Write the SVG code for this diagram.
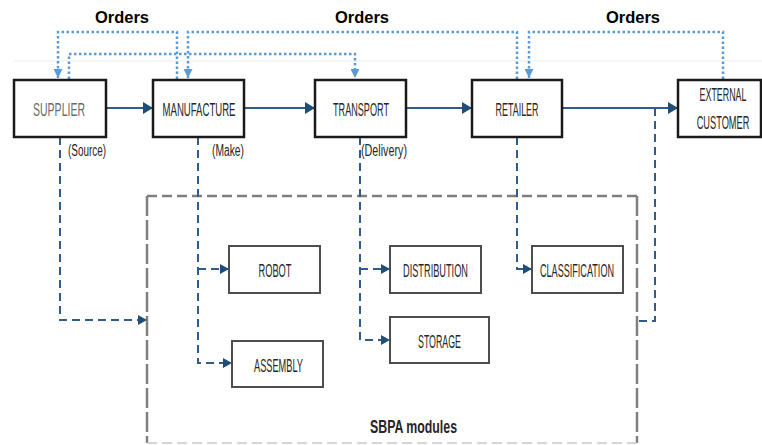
<svg xmlns="http://www.w3.org/2000/svg" width="762" height="445" viewBox="0 0 762 445">
  <style>
    .box { fill: #ffffff; stroke: #1a1a1a; stroke-width: 2.5; }
    .sub { fill: #ffffff; stroke: #4d4d4d; stroke-width: 2; }
    .lbl { font-family: "Liberation Sans", Arial, sans-serif; font-size: 18.5px; fill: #262626; text-anchor: middle; }
    .note { font-family: "Liberation Sans", Arial, sans-serif; font-size: 16px; fill: #262626; }
    .orders { font-family: "Liberation Sans", Arial, sans-serif; font-size: 16.5px; font-weight: bold; fill: #000000; text-anchor: middle; }
    .flow { fill: none; stroke: #2f5c8a; stroke-width: 2.2; }
    .order { fill: none; stroke: #5b9bd5; stroke-width: 2.5; stroke-dasharray: 2.5 2.5; }
    .link { fill: none; stroke: #2f5c8a; stroke-width: 2; stroke-dasharray: 8 5; }
    .frame { fill: none; stroke: #7f7f7f; stroke-width: 2.5; }
  </style>
  <defs>
    <marker id="arrowSolid" markerUnits="userSpaceOnUse" markerWidth="10" markerHeight="12" refX="10" refY="6" orient="auto">
      <path d="M0,0 L10,6 L0,12 z" fill="#1f4e79"/>
    </marker>
    <marker id="arrowOrder" markerUnits="userSpaceOnUse" markerWidth="9" markerHeight="9" refX="9" refY="4.5" orient="auto">
      <path d="M0,0 L9,4.5 L0,9 z" fill="#5b9bd5"/>
    </marker>
    <marker id="arrowLink" markerUnits="userSpaceOnUse" markerWidth="9" markerHeight="10" refX="9" refY="5" orient="auto">
      <path d="M0,0 L9,5 L0,10 z" fill="#1f4e79"/>
    </marker>
  </defs>

  <rect width="762" height="445" fill="#ffffff"/>
  <line x1="14" y1="61" x2="762" y2="61" stroke="#ececec" stroke-width="1"/>

  <!-- SBPA module frame -->
  <g id="sbpa-frame">
    <line class="frame" x1="147" y1="196" x2="637" y2="196" stroke-dasharray="10 5"/>
    <line class="frame" x1="147" y1="196" x2="147" y2="443" stroke-dasharray="20 4"/>
    <line class="frame" x1="637" y1="196" x2="637" y2="443" stroke-dasharray="20 4"/>
    <line x1="147" y1="443" x2="637" y2="443" stroke="#c8c8c8" stroke-width="1.5" stroke-dasharray="10 5"/>
    <text x="413.5" y="433" font-family="'Liberation Sans', Arial, sans-serif" font-size="19" font-weight="bold" fill="#262626" text-anchor="middle" textLength="87" lengthAdjust="spacingAndGlyphs">SBPA modules</text>
  </g>

  <g id="connectors">
    <!-- material flow -->
    <line class="flow" x1="106" y1="108" x2="153" y2="108" marker-end="url(#arrowSolid)"/>
    <line class="flow" x1="244" y1="108" x2="315" y2="108" marker-end="url(#arrowSolid)"/>
    <line class="flow" x1="406" y1="108" x2="472" y2="108" marker-end="url(#arrowSolid)"/>
    <line class="flow" x1="562" y1="108" x2="678" y2="108" marker-end="url(#arrowSolid)"/>

    <!-- order flow -->
    <polyline class="order" points="177,79 177,32 58,32 58,78" marker-end="url(#arrowOrder)"/>
    <polyline class="order" points="69,79 69,54 355,54 355,78" marker-end="url(#arrowOrder)"/>
    <polyline class="order" points="517,79 517,32 188,32 188,78" marker-end="url(#arrowOrder)"/>
    <polyline class="order" points="723,79 723,32 529,32 529,78" marker-end="url(#arrowOrder)"/>

    <!-- links into SBPA modules -->
    <polyline class="link" points="60,137 60,320 147,320" marker-end="url(#arrowLink)"/>
    <polyline class="link" points="198,137 198,363 232,363" marker-end="url(#arrowLink)"/>
    <polyline class="link" points="198,269 229,269" marker-end="url(#arrowLink)"/>
    <polyline class="link" points="360,137 360,340 390,340" marker-end="url(#arrowLink)"/>
    <polyline class="link" points="360,269 390,269" marker-end="url(#arrowLink)"/>
    <polyline class="link" points="517,137 517,269 532,269" marker-end="url(#arrowLink)"/>
    <polyline class="link" points="655,108 655,321 637,321"/>
  </g>

  <g id="supplier">
    <rect class="box" x="14" y="80" width="92" height="57"/>
    <text class="lbl" x="59" y="116" textLength="52" lengthAdjust="spacingAndGlyphs" style="fill:#6b6b6b">SUPPLIER</text>
    <text class="note" x="68" y="156" textLength="38" lengthAdjust="spacingAndGlyphs">(Source)</text>
  </g>
  <g id="manufacture">
    <rect class="box" x="153" y="80" width="91" height="57"/>
    <text class="lbl" x="199" y="116" textLength="73" lengthAdjust="spacingAndGlyphs">MANUFACTURE</text>
    <text class="note" x="212" y="156" textLength="32" lengthAdjust="spacingAndGlyphs">(Make)</text>
  </g>
  <g id="transport">
    <rect class="box" x="315" y="80" width="91" height="57"/>
    <text class="lbl" x="361" y="116" textLength="56" lengthAdjust="spacingAndGlyphs">TRANSPORT</text>
    <text class="note" x="361" y="156" textLength="46" lengthAdjust="spacingAndGlyphs">(Delivery)</text>
  </g>
  <g id="retailer">
    <rect class="box" x="472" y="80" width="90" height="57"/>
    <text class="lbl" x="517" y="116" textLength="43" lengthAdjust="spacingAndGlyphs">RETAILER</text>
  </g>
  <g id="external-customer">
    <rect class="box" x="678" y="80" width="83" height="57"/>
    <text class="lbl" transform="translate(723 101) scale(0.48 1)" x="0" y="0">EXTERNAL</text>
    <text class="lbl" transform="translate(723 129) scale(0.5 1)" x="0" y="0">CUSTOMER</text>
  </g>

  <g id="robot">
    <rect class="sub" x="229" y="246" width="91" height="47"/>
    <text class="lbl" x="275" y="277" textLength="33" lengthAdjust="spacingAndGlyphs">ROBOT</text>
  </g>
  <g id="assembly">
    <rect class="sub" x="232" y="341" width="91" height="46"/>
    <text class="lbl" x="278.5" y="372" textLength="49" lengthAdjust="spacingAndGlyphs">ASSEMBLY</text>
  </g>
  <g id="distribution">
    <rect class="sub" x="390" y="246" width="91" height="47"/>
    <text class="lbl" x="435.5" y="277" textLength="65" lengthAdjust="spacingAndGlyphs">DISTRIBUTION</text>
  </g>
  <g id="storage">
    <rect class="sub" x="390" y="317" width="99" height="46"/>
    <text class="lbl" x="439.5" y="348" textLength="43" lengthAdjust="spacingAndGlyphs">STORAGE</text>
  </g>
  <g id="classification">
    <rect class="sub" x="532" y="246" width="91" height="47"/>
    <text class="lbl" x="577" y="277" textLength="74" lengthAdjust="spacingAndGlyphs">CLASSIFICATION</text>
  </g>

  <g id="order-labels">
    <text class="orders" x="122" y="23">Orders</text>
    <text class="orders" x="362" y="23">Orders</text>
    <text class="orders" x="633" y="23">Orders</text>
  </g>
</svg>
